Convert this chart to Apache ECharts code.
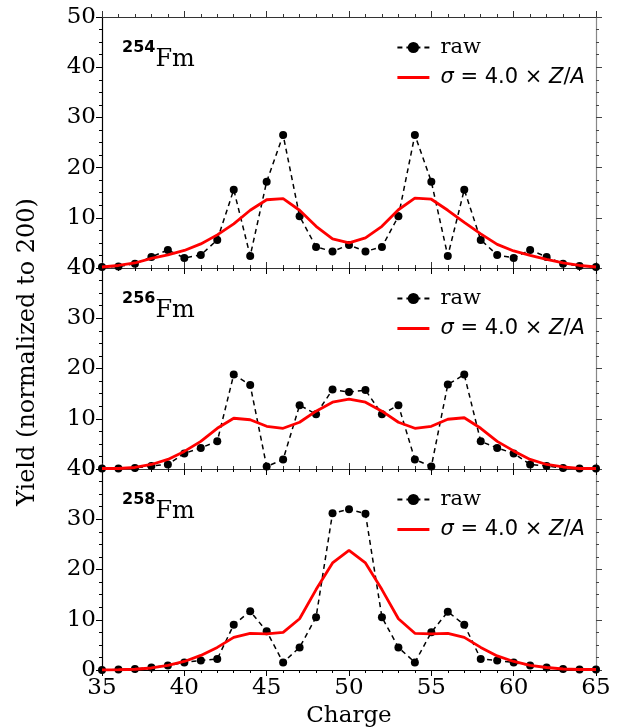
<!DOCTYPE html>
<html><head><meta charset="utf-8">
<script src="https://cdn.jsdelivr.net/npm/echarts@6/dist/echarts.min.js"></script>
<style>html,body{margin:0;padding:0;background:#fff}#c{width:620px;height:728px}</style>
</head><body><div id="c"></div>
<script>
var charge = [35,36,37,38,39,40,41,42,43,44,45,46,47,48,49,50,51,52,53,54,55,56,57,58,59,60,61,62,63,64,65];
var fm254Raw = [0.2,0.3,0.86,2.2,3.6,2.0,2.6,5.6,15.6,2.4,17.2,26.5,10.3,4.2,3.3,4.6,3.3,4.2,10.3,26.5,17.2,2.4,15.6,5.6,2.6,2.0,3.6,2.2,0.86,0.4,0.2];
var fm254Fit = [0.2,0.5,1.0,1.9,2.6,3.5,4.8,6.6,8.8,11.5,13.6,13.8,11.5,8.3,5.8,5.0,6.0,8.3,11.6,13.9,13.7,11.5,9.1,6.8,4.7,3.4,2.5,1.7,1.0,0.5,0.2];
var fm256Raw = [0.1,0.1,0.2,0.6,0.9,3.1,4.2,5.5,18.8,16.7,0.5,1.9,12.7,10.9,15.8,15.3,15.7,10.9,12.7,1.9,0.5,16.8,18.8,5.5,4.2,3.1,0.9,0.6,0.2,0.1,0.1];
var fm256Fit = [0.1,0.1,0.3,0.9,1.9,3.5,5.5,8.1,10.1,9.8,8.5,8.1,9.3,11.5,13.3,13.9,13.3,11.5,9.3,8.1,8.5,9.9,10.2,8.1,5.5,3.6,1.9,0.9,0.4,0.1,0.1];
var fm258Raw = [0.0,0.1,0.2,0.5,0.9,1.5,1.9,2.2,9.0,11.7,7.7,1.5,4.5,10.5,31.2,32.0,31.1,10.5,4.5,1.5,7.5,11.6,9.0,2.2,1.9,1.5,0.9,0.5,0.2,0.1,0.1];
var fm258Fit = [0.0,0.05,0.15,0.4,0.9,1.7,2.9,4.5,6.5,7.3,7.2,7.5,10.2,16.0,21.3,23.8,21.3,16.0,10.2,7.3,7.2,7.3,6.5,4.5,2.8,1.7,0.9,0.5,0.2,0.1,0.1];
var isotopes = ['254','256','258'];
var yMax = [50, 40, 40];
var rawName = 'raw';
var fitName = 'sigma';

var SERIF = 'DejaVu Serif';
var SANS = 'DejaVu Sans';
var grids = [
  {left:102, right:24, top:17, height:251},
  {left:102, right:24, top:268, height:201},
  {left:102, right:24, top:469, height:201}
];
function pairs(v){ return charge.map(function(c,i){return [c, v[i]];}); }
var raws = [fm254Raw, fm256Raw, fm258Raw];
var fits = [fm254Fit, fm256Fit, fm258Fit];

var xAxis = [], yAxis = [], series = [], legend = [], graphic = [];
function tick(color){ return {show:true, inside:false, length:6, lineStyle:{color:color, width:1}}; }
function minor(n,color){ return {show:true, splitNumber:n, length:3, lineStyle:{color:color, width:1}}; }
for (var g=0; g<3; g++){
  var bottomShow = (g===2);
  xAxis.push({type:'value', gridIndex:g, min:35, max:65, interval:5, position:'bottom',
    axisLine:{show:true, onZero:false, lineStyle:{color:'#000', width:1.2}},
    axisTick:tick('#000'), minorTick:minor(5,'#000'), splitLine:{show:false},
    axisLabel:{show:bottomShow, fontFamily:SERIF, fontSize:23, color:'#000', margin:7}});
  xAxis.push({type:'value', gridIndex:g, min:35, max:65, interval:5, position:'top',
    axisLine:{show:true, onZero:false, lineStyle:{color:'#333', width:1.2}},
    axisTick:tick('#333'), minorTick:minor(5,'#333'), splitLine:{show:false},
    axisLabel:{show:false}});
  yAxis.push({type:'value', gridIndex:g, min:0, max:yMax[g], interval:10, position:'left',
    axisLine:{show:true, onZero:false, lineStyle:{color:'#000', width:1.2}},
    axisTick:tick('#000'), minorTick:minor(4,'#000'), splitLine:{show:false},
    axisLabel:{fontFamily:SERIF, fontSize:23, color:'#000', margin:6}});
  yAxis.push({type:'value', gridIndex:g, min:0, max:yMax[g], interval:10, position:'right',
    axisLine:{show:true, onZero:false, lineStyle:{color:'#888', width:1.2}},
    axisTick:tick('#444'), minorTick:minor(4,'#444'), splitLine:{show:false},
    axisLabel:{show:false}});
  series.push({name:rawName, type:'line', xAxisIndex:2*g, yAxisIndex:2*g, data:pairs(raws[g]),
    symbol:'circle', symbolSize:8, itemStyle:{color:'#000'},
    lineStyle:{color:'#000', width:1.5, type:[5,4]}, z:2, animation:false});
  series.push({name:fitName, type:'line', xAxisIndex:2*g, yAxisIndex:2*g, data:pairs(fits[g]),
    symbol:'none', itemStyle:{color:'#ff0000'},
    lineStyle:{color:'#ff0000', width:2.8}, z:3, animation:false});
  legend.push({orient:'vertical', left:391, top:grids[g].top+15, itemGap:9, itemWidth:32, itemHeight:14,
    data:[{name:rawName}, {name:fitName, itemStyle:{opacity:0}, lineStyle:{opacity:1, width:2.8, color:'#ff0000'}}], selectedMode:false,
    formatter:function(n){ return n===rawName ? '{s|raw}' : '{i|σ} = 4.0 × {i|Z}/{i|A}'; },
    textStyle:{fontFamily:SANS, fontSize:21, color:'#000', padding:[0,0,0,6],
      rich:{s:{fontFamily:SERIF, fontSize:21, color:'#000'}, i:{fontFamily:SANS, fontStyle:'italic', fontSize:21, color:'#000'}}}});
  graphic.push({type:'text', left:122, top:grids[g].top+23,
    style:{text:'{a|'+isotopes[g]+'}{b|Fm}', rich:{a:{fontFamily:SANS, fontWeight:'bold', fontSize:16, color:'#000', verticalAlign:'top', padding:[0,0,10,0]}, b:{fontFamily:SERIF, fontSize:24, color:'#000', padding:[8,0,0,0]}}}});
}
graphic.push({type:'text', x:28, y:352, rotation:Math.PI/2,
  style:{text:'Yield (normalized to 200)', fontFamily:SERIF, fontSize:24, fill:'#000', textAlign:'center', textVerticalAlign:'middle'}});
graphic.push({type:'text', x:349, y:716,
  style:{text:'Charge', fontFamily:SERIF, fontSize:23, fill:'#000', textAlign:'center', textVerticalAlign:'middle'}});

var chart = echarts.init(document.getElementById('c'), null, {renderer:'canvas'});
chart.setOption({animation:false, backgroundColor:'#fff', grid:grids, xAxis:xAxis, yAxis:yAxis, series:series, legend:legend, graphic:graphic});
</script></body></html>
